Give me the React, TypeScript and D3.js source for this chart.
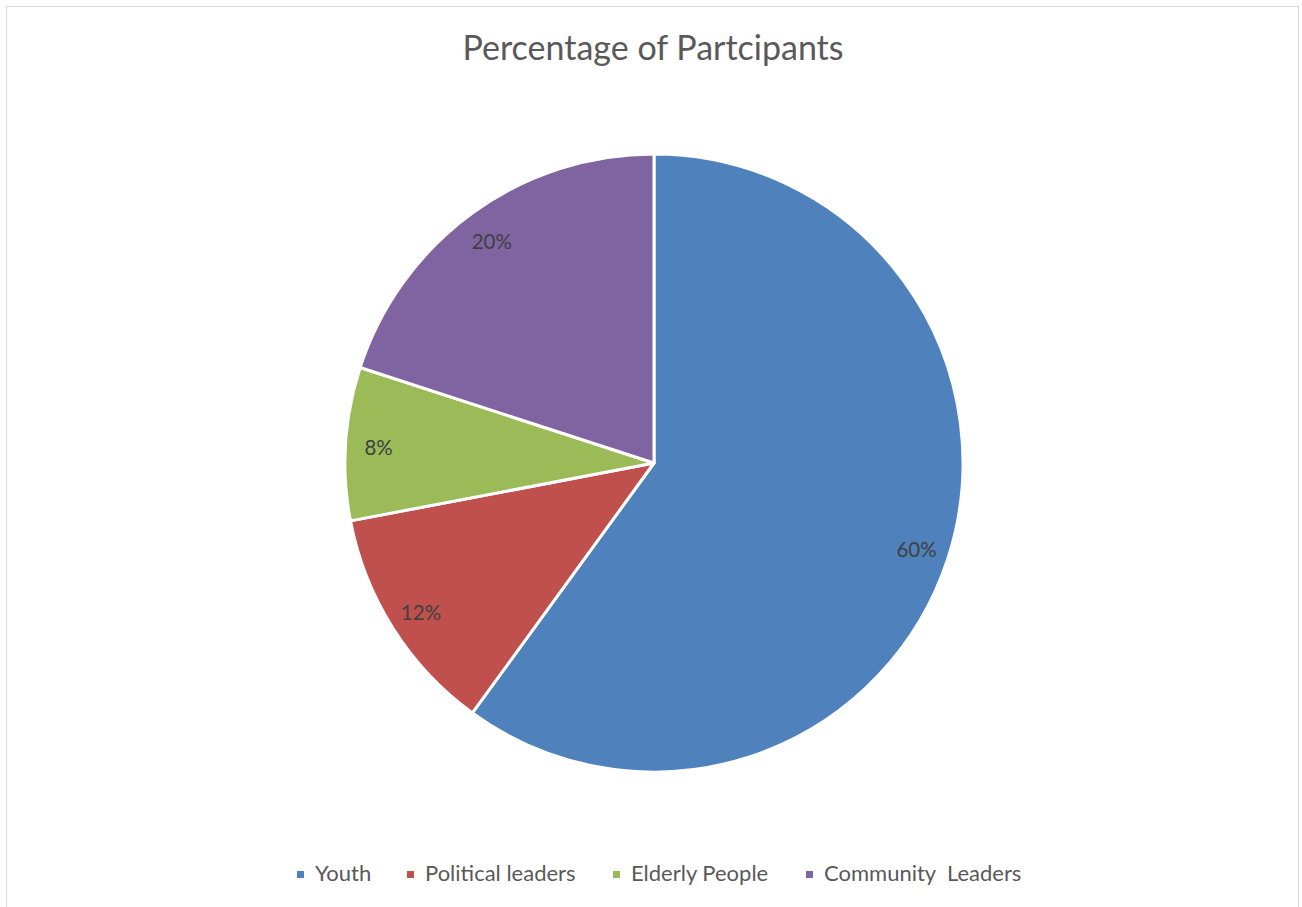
import React from "react";
import * as d3 from "d3";

const categories = ["Youth", "Political leaders", "Elderly People", "Community  Leaders"];
const values = [60, 12, 8, 20];
const labels = ["60%", "12%", "8%", "20%"];
const colors = ["#4F81BD", "#C0504D", "#9BBB59", "#8064A2"];
const title = "Percentage of Partcipants";

const W = 1302;
const H = 907;
const cx = 654;
const cy = 463;
const R = 309;
const FONT = "Lato, 'Open Sans', sans-serif";

const legendX = [297, 407, 613, 806];

export default function App() {
  const pie = d3.pie<number>().sort(null).value((d) => d)(values);
  const arc = d3.arc<d3.PieArcDatum<number>>().innerRadius(0).outerRadius(R);
  const labelArc = d3.arc<d3.PieArcDatum<number>>().innerRadius(276).outerRadius(276);
  return (
    <svg width={W} height={H} style={{ position: "absolute", left: 0, top: 0 }}>
      <rect x={0} y={0} width={W} height={H} fill="#fff" />
      <rect x={6.5} y={6.5} width={1292} height={H + 10} fill="#fff" stroke="#d9d9d9" strokeWidth={1} />
      <text x={653} y={51} textAnchor="middle" dominantBaseline="middle" fontFamily={FONT} fontSize={34} fill="#595959">
        {title}
      </text>
      <g transform={`translate(${cx},${cy})`}>
        {pie.map((p, i) => (
          <path key={i} d={arc(p) || ""} fill={colors[i]} stroke="#fff" strokeWidth={3} strokeLinejoin="round" />
        ))}
        {pie.map((p, i) => {
          const [x, y] = labelArc.centroid(p);
          return (
            <text key={i} x={x} y={y + 4} textAnchor="middle" dominantBaseline="middle" fontFamily={FONT} fontSize={20.5} fill="#404040">
              {labels[i]}
            </text>
          );
        })}
      </g>
      {categories.map((c, i) => (
        <g key={i}>
          <rect x={legendX[i]} y={871} width={7} height={7} fill={colors[i]} />
          <text x={legendX[i] + 18} y={875.5} dominantBaseline="middle" fontFamily={FONT} fontSize={22} fill="#595959" style={{ whiteSpace: "pre" }}>
            {c}
          </text>
        </g>
      ))}
    </svg>
  );
}
